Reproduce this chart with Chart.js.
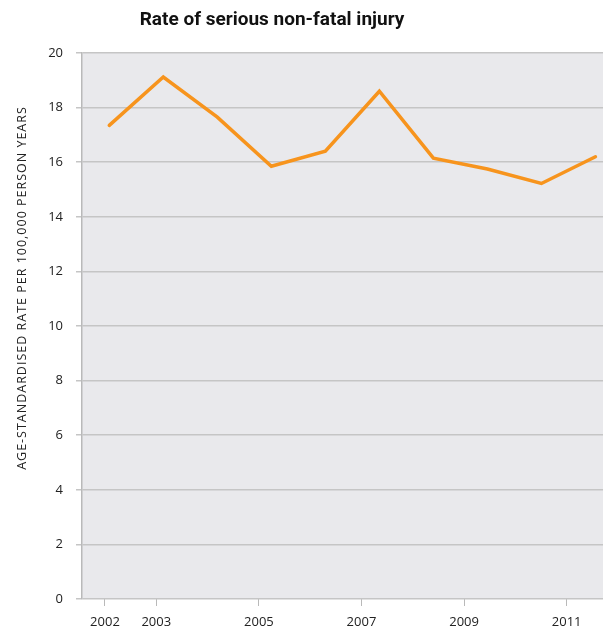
<!DOCTYPE html>
<html>
<head>
<meta charset="utf-8">
<script src="https://cdn.jsdelivr.net/npm/chart.js@4.4.1/dist/chart.umd.min.js"></script>
<style>
  html, body { margin: 0; padding: 0; background: #ffffff; overflow: hidden; }
  #wrap { width: 603px; height: 631px; }
</style>
</head>
<body>
<div id="wrap"><canvas id="c" width="603" height="631"></canvas></div>
<script>
// Survey years and the age-standardised injury rate for each
const years = [2002, 2003, 2004, 2005, 2006, 2007, 2008, 2009, 2010, 2011];
const rates = [17.35, 19.12, 17.65, 15.85, 16.4, 18.6, 16.15, 15.75, 15.22, 16.2];
// Years labelled on the horizontal axis
const tickYears = [2002, 2003, 2005, 2007, 2009, 2011];
// Vertical axis ticks
const yTicks = [0, 2, 4, 6, 8, 10, 12, 14, 16, 18, 20];

const chartTitle = 'Rate of serious non-fatal injury';
const yTitle = 'AGE-STANDARDISED RATE PER 100,000 PERSON YEARS';

const FONT = '"Open Sans", "DejaVu Sans", sans-serif';

const plotBackground = {
  id: 'plotBackground',
  beforeDraw(chart) {
    const { ctx, chartArea: a } = chart;
    ctx.save();
    ctx.fillStyle = '#e9e9ec';
    ctx.fillRect(a.left, a.top, a.right - a.left, a.bottom - a.top);
    ctx.restore();
  }
};

const headings = {
  id: 'headings',
  afterDraw(chart) {
    const ctx = chart.ctx;
    ctx.save();
    ctx.fillStyle = '#111111';
    ctx.font = 'bold 19px Roboto, ' + FONT;
    ctx.textAlign = 'center';
    ctx.textBaseline = 'alphabetic';
    ctx.fillText(chartTitle, 272, 25);

    ctx.translate(22, 288);
    ctx.rotate(-Math.PI / 2);
    ctx.font = '12.5px ' + FONT;
    if ('letterSpacing' in ctx) ctx.letterSpacing = '1px';
    ctx.fillStyle = '#222222';
    ctx.textBaseline = 'middle';
    ctx.fillText(yTitle, 0, 0);
    ctx.restore();
  }
};

new Chart(document.getElementById('c'), {
  type: 'line',
  data: {
    datasets: [{
      data: years.map((y, i) => ({ x: y, y: rates[i] })),
      xAxisID: 'xd',
      yAxisID: 'y',
      borderColor: '#f7941d',
      borderWidth: 3.5,
      borderCapStyle: 'round',
      borderJoinStyle: 'miter',
      pointRadius: 0,
      tension: 0,
      fill: false
    }]
  },
  options: {
    responsive: false,
    animation: false,
    layout: { padding: { top: 53, right: 0, bottom: 0, left: 0 } },
    plugins: { legend: { display: false }, title: { display: false }, tooltip: { enabled: false } },
    scales: {
      xd: {
        type: 'linear',
        position: 'bottom',
        display: false,
        min: 2001.495,
        max: 2011.14
      },
      x: {
        type: 'linear',
        position: 'bottom',
        min: 2001.552,
        max: 2011.708,
        afterBuildTicks(scale) { scale.ticks = tickYears.map(v => ({ value: v })); },
        afterFit(scale) { scale.height = 32; },
        grid: { drawOnChartArea: false, drawTicks: true, tickLength: 7, color: '#b9b9b9', lineWidth: 1 },
        border: { display: false },
        ticks: {
          autoSkip: false,
          maxRotation: 0,
          padding: 8,
          color: '#222222',
          font: { family: FONT, size: 13 },
          callback: v => String(v)
        }
      },
      y: {
        type: 'linear',
        position: 'left',
        min: 0,
        max: 20,
        afterBuildTicks(scale) { scale.ticks = yTicks.map(v => ({ value: v })); },
        afterFit(scale) { scale.width = 82; },
        grid: { color: '#c5c5c5', lineWidth: 1.5, tickLength: 6 },
        border: { display: true, color: '#b9b9b9', width: 1.5 },
        ticks: {
          padding: 13,
          color: '#222222',
          font: { family: FONT, size: 13 },
          callback: v => String(v)
        }
      }
    }
  },
  plugins: [plotBackground, headings]
});
</script>
</body>
</html>
